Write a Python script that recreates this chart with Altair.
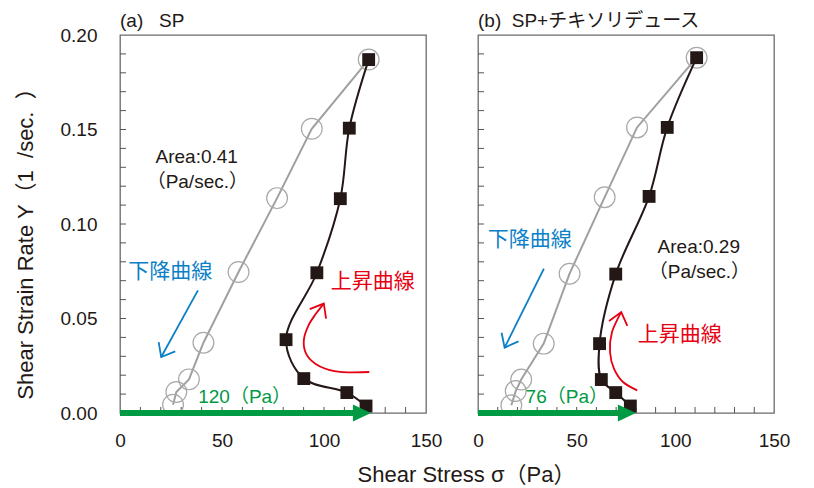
import altair as alt
import pandas as pd

FONT = "Liberation Sans, Noto Sans CJK JP, sans-serif"
INK = "#231815"
GRAY_LINE = "#a0a0a0"
GRAY_CIRCLE = "#a8a8a8"
GREEN = "#009944"
BLUE = "#0b7fc7"
RED = "#e60012"

# ---------------- data ----------------
x_major = [0, 50, 100, 150]
y_major = [0.00, 0.05, 0.10, 0.15, 0.20]
x_minor = [10, 20, 30, 40, 50, 60, 70, 80, 90, 100, 110, 120, 130, 140]
y_minor = [0.01, 0.02, 0.03, 0.04, 0.05, 0.06, 0.07, 0.08, 0.09, 0.10,
           0.11, 0.12, 0.13, 0.14, 0.15, 0.16, 0.17, 0.18, 0.19]

x_title = "Shear Stress σ（Pa）"
y_title = "Shear Strain Rate Y（1\u00a0\u00a0/sec.\u00a0\u00a0）"

# panel (a) SP
a_title = "(a)\u00a0\u00a0\u00a0SP"
a_up_stress = [120.6, 111.2, 90.1, 81.4, 96.5, 108.0, 112.4, 121.9]
a_up_rate = [0.0037, 0.0108, 0.0182, 0.0388, 0.0742, 0.1134, 0.1507, 0.1870]
a_down_stress = [121.9, 94.0, 77.0, 58.1, 40.9, 33.8, 27.6, 26.0]
a_down_rate = [0.1870, 0.1504, 0.1137, 0.0746, 0.0372, 0.0178, 0.0111, 0.0044]
a_yield_tip = 123.0
a_text = ["Area:0.41", "（Pa/sec.）", "下降曲線", "上昇曲線", "120（Pa）"]
a_text_x = [37.6, 37.9, 24.6, 123.9, 61.1]
a_text_y = [0.1357, 0.1222, 0.0744, 0.0693, 0.0083]
a_blue_x = [38.2, 20.2]
a_blue_y = [0.0649, 0.0296]
a_red_x = [122.2, 105.1, 96.1, 91.2, 90.1, 92.4, 96.1, 99.9]
a_red_y = [0.0217, 0.0222, 0.0258, 0.0314, 0.0384, 0.0464, 0.0526, 0.0579]
a_head_angle = [209, 30]

# panel (b) SP + thixo reducer
b_title = "(b)\u00a0\u00a0SP+チキソリデュース"
b_up_stress = [77.2, 69.8, 62.5, 61.6, 69.8, 86.7, 95.9, 110.8]
b_up_rate = [0.0037, 0.0108, 0.0177, 0.0367, 0.0735, 0.1146, 0.1511, 0.1880]
b_down_stress = [110.8, 80.6, 64.2, 46.4, 33.3, 21.9, 19.1, 16.9]
b_down_rate = [0.1880, 0.1511, 0.1142, 0.0737, 0.0367, 0.0177, 0.0116, 0.0041]
b_yield_tip = 80.0
b_text = ["Area:0.29", "（Pa/sec.）", "下降曲線", "上昇曲線", "76（Pa）"]
b_text_x = [111.9, 112.2, 26.2, 102.2, 45.0]
b_text_y = [0.0878, 0.0746, 0.0913, 0.0411, 0.0085]
b_blue_x = [33.4, 13.5]
b_blue_y = [0.0764, 0.0346]
b_red_x = [80.7, 73.5, 68.9, 66.9, 67.9, 72.6]
b_red_y = [0.0120, 0.0164, 0.0235, 0.0323, 0.0428, 0.0534]
b_head_angle = [207, 15]

text_colors = [INK, INK, BLUE, RED, GREEN]
text_sizes = [19, 19, 21, 21, 19]

H = 378
TICK = 6
CHEVRON = "M-0.8,1L0,0L0.8,1"
TRIANGLE = "M-2,-0.95L0,0L-2,0.95Z"


def panel(d, first, W):
    xs = alt.Scale(domain=[0, 150], nice=False, zero=False)
    ys = alt.Scale(domain=[0, 0.2], nice=False, zero=False)
    common = dict(grid=False, domain=False, ticks=False, labelFontSize=19,
                  labelFont=FONT, labelColor=INK, labelFlush=False,
                  labelOverlap=False)
    if first:
        xaxis = alt.Axis(values=x_major, format="d", labelPadding=18,
                         title=x_title, titleX=346, titleY=61,
                         titleAlign="center", titleBaseline="middle",
                         titleFontSize=22, titleFont=FONT,
                         titleFontWeight="normal", titleColor=INK, **common)
        yaxis = alt.Axis(values=y_major, format=".2f", labelPadding=23,
                         title=y_title, titleX=-95, titleY=203,
                         titleAngle=270, titleAlign="center",
                         titleBaseline="middle", titleFontSize=22,
                         titleFont=FONT, titleFontWeight="normal",
                         titleColor=INK, **common)
    else:
        xaxis = alt.Axis(values=x_major, format="d", labelPadding=18,
                         title=None, **common)
        yaxis = None

    def X(f):
        return alt.X(f"{f}:Q", scale=xs, axis=xaxis)

    def Y(f):
        return alt.Y(f"{f}:Q", scale=ys, axis=yaxis)

    xt = alt.Chart(pd.DataFrame({"t": x_minor})).mark_rule(
        color="#555", strokeWidth=1).encode(
        x=X("t"), y=alt.value(H), y2=alt.value(H - TICK))
    yt = alt.Chart(pd.DataFrame({"t": y_minor})).mark_rule(
        color="#555", strokeWidth=1).encode(
        y=Y("t"), x=alt.value(0), x2=alt.value(TICK))

    down = pd.DataFrame({"s": d["down_s"], "r": d["down_r"],
                         "i": range(len(d["down_s"]))})
    up = pd.DataFrame({"s": d["up_s"], "r": d["up_r"],
                       "i": range(len(d["up_s"]))})

    gline = alt.Chart(down).mark_line(color=GRAY_LINE, strokeWidth=2).encode(
        x=X("s"), y=Y("r"), order="i:Q")
    gpts = alt.Chart(down).mark_point(
        shape="circle", size=430, filled=False, color=GRAY_CIRCLE,
        strokeWidth=1.2, opacity=1).encode(x=X("s"), y=Y("r"))

    tip = d["tip"]
    garrow = alt.Chart(pd.DataFrame({"s": [0, tip - 7], "r": [0, 0]})).mark_line(
        color=GREEN, strokeWidth=6, strokeCap="butt").encode(
        x=X("s"), y=Y("r"))
    ghead = alt.Chart(pd.DataFrame({"s": [tip], "r": [0]})).mark_point(
        shape=TRIANGLE, size=324, filled=True, color=GREEN, opacity=1,
        strokeWidth=0).encode(x=X("s"), y=Y("r"))

    bline = alt.Chart(up).mark_line(
        color=INK, strokeWidth=2, interpolate="catmull-rom").encode(
        x=X("s"), y=Y("r"), order="i:Q")
    bpts = alt.Chart(up).mark_square(size=165, color=INK, opacity=1).encode(
        x=X("s"), y=Y("r"))

    blue = alt.Chart(pd.DataFrame({"s": d["blue_x"], "r": d["blue_y"]})).mark_line(
        color=BLUE, strokeWidth=1.8).encode(x=X("s"), y=Y("r"))
    red = alt.Chart(pd.DataFrame({"s": d["red_x"], "r": d["red_y"],
                                  "i": range(len(d["red_x"]))})).mark_line(
        color=RED, strokeWidth=1.8, interpolate="catmull-rom").encode(
        x=X("s"), y=Y("r"), order="i:Q")
    heads = pd.DataFrame({
        "s": [d["blue_x"][-1], d["red_x"][-1]],
        "r": [d["blue_y"][-1], d["red_y"][-1]],
        "a": d["angles"], "c": [BLUE, RED]})
    hmark = alt.Chart(heads).mark_point(
        shape=CHEVRON, size=560, filled=False, strokeWidth=1.8,
        opacity=1).encode(
        x=X("s"), y=Y("r"), angle=alt.Angle("a:Q", scale=None),
        color=alt.Color("c:N", scale=None))

    tdf = pd.DataFrame({"t": d["text"], "s": d["tx"], "r": d["ty"],
                        "c": text_colors, "z": text_sizes})
    texts = alt.Chart(tdf).mark_text(
        font=FONT, align="center", baseline="middle").encode(
        x=X("s"), y=Y("r"), text="t:N",
        color=alt.Color("c:N", scale=None), size=alt.Size("z:Q", scale=None))

    ttl = alt.Chart(pd.DataFrame({"t": [d["title"]]})).mark_text(
        font=FONT, fontSize=19, color=INK, align="left",
        baseline="middle").encode(
        text="t:N", x=alt.value(0), y=alt.value(-14))

    return alt.layer(xt, yt, gline, gpts, garrow, bline, bpts, ghead,
                     blue, red, hmark, texts, ttl).properties(
        width=W, height=H)


A = dict(title=a_title, up_s=a_up_stress, up_r=a_up_rate,
         down_s=a_down_stress, down_r=a_down_rate, tip=a_yield_tip,
         text=a_text, tx=a_text_x, ty=a_text_y, blue_x=a_blue_x,
         blue_y=a_blue_y, red_x=a_red_x, red_y=a_red_y, angles=a_head_angle)
B = dict(title=b_title, up_s=b_up_stress, up_r=b_up_rate,
         down_s=b_down_stress, down_r=b_down_rate, tip=b_yield_tip,
         text=b_text, tx=b_text_x, ty=b_text_y, blue_x=b_blue_x,
         blue_y=b_blue_y, red_x=b_red_x, red_y=b_red_y, angles=b_head_angle)

chart = alt.hconcat(panel(A, True, 306), panel(B, False, 296),
                    spacing=52, bounds="flush").properties(
    padding={"left": 5, "top": 3, "right": 5, "bottom": 0}
).configure_view(stroke="#6b6b6b", strokeWidth=1.3)

chart.save("out.html", embed_options={"renderer": "svg", "actions": False})
